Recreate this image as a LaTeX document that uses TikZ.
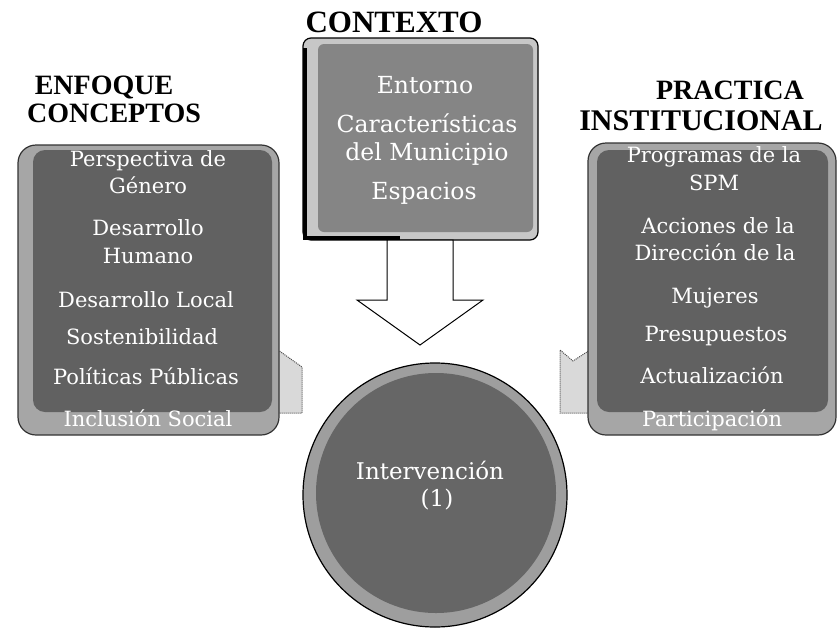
\documentclass[tikz,border=0pt]{standalone}
\usepackage{fontspec}
\setmainfont{Liberation Serif}
\newfontfamily\boxfont{DejaVu Serif}
\begin{document}
\begin{tikzpicture}[x=1pt,y=-1pt,
  title/.style={font=\bfseries\fontsize{28}{30}\selectfont, text=black, anchor=base, inner sep=0pt},
  outerbox/.style={draw=black!80, fill=black!35, line width=1.2pt, rounded corners=18pt},
  innerbox/.style={fill=black!62, rounded corners=12pt},
  boxtxt/.style={font=\boxfont\fontsize{21}{24}\selectfont, text=white, anchor=base, inner sep=1pt},
  ctxtxt/.style={font=\boxfont\fontsize{23.5}{26}\selectfont, text=white, anchor=base, inner sep=1pt},
  blockarrow/.style={draw=black, line width=1pt, fill=white, line join=miter},
  sidearrow/.style={draw=black!70, line width=1pt, fill=black!15, densely dotted}]
\useasboundingbox (0,0) rectangle (837,629);

% ---- titles
\node[title, font=\bfseries\fontsize{31}{33}\selectfont] (tctx) at (394,32) {CONTEXTO};
\node[title] (tenf1) at (104,94) {ENFOQUE};
\node[title] (tpra1) at (730,99) {PRACTICA};
\node[title] (tenf2) at (114,122) {CONCEPTOS};
\node[title, font=\bfseries\fontsize{30}{32}\selectfont] (tpra2) at (701,130) {INSTITUCIONAL};

% ---- side arrows (behind)
\draw[sidearrow] (278,350) -- (302,367) -- (302,413) -- (278,413) -- cycle;
\draw[sidearrow] (590,350) -- (573,361) -- (560,350) -- (560,413) -- (590,413) -- cycle;

% ---- left box
\draw[outerbox] (18,145) rectangle (279,435);
\fill[innerbox] (33,150) rectangle (272,412);
\node[boxtxt] (l1) at (148,166) {Perspectiva de};
\node[boxtxt] (l2) at (148,193) {Género};
\node[boxtxt] (l3) at (148,235) {Desarrollo};
\node[boxtxt] (l4) at (148,263) {Humano};
\node[boxtxt] (l5) at (146,307) {Desarrollo Local};
\node[boxtxt] (l6) at (142,344) {Sostenibilidad};
\node[boxtxt] (l7) at (146,384) {Políticas Públicas};
\node[boxtxt] (l8) at (148,426) {Inclusión Social};

% ---- right box
\draw[outerbox] (588,143) rectangle (836,435);
\fill[innerbox] (597,150) rectangle (828,412);
\node[boxtxt] (r1) at (714,162) {Programas de la};
\node[boxtxt] (r2) at (714,190) {SPM};
\node[boxtxt] (r3) at (718,233) {Acciones de la};
\node[boxtxt] (r4) at (715,260) {Dirección de la};
\node[boxtxt] (r5) at (715,303) {Mujeres};
\node[boxtxt] (r6) at (716,341) {Presupuestos};
\node[boxtxt] (r7) at (712,383) {Actualización};
\node[boxtxt] (r8) at (712,426) {Participación};

% ---- context box
\draw[draw=black, line width=1.2pt, fill=black!22, rounded corners=8pt] (303,38) rectangle (538,240);
\fill[black!48, rounded corners=6pt] (318,44) rectangle (533,232);
\draw[black, line width=4pt] (305,48) -- (305,238) -- (400,238);
\node[ctxtxt] (c1) at (425,93) {Entorno};
\node[ctxtxt] (c2) at (427,132) {Características};
\node[ctxtxt] (c3) at (427,160) {del Municipio};
\node[ctxtxt] (c4) at (424,199) {Espacios};

% ---- down arrow
\draw[blockarrow] (387,240) -- (387,300) -- (357,300) -- (420,345) -- (483,300) -- (453,300) -- (453,240) -- cycle;

% ---- circle
\node[circle, draw=black, line width=1.2pt, fill=black!38, minimum size=264pt, inner sep=0pt] (circ) at (435,495) {};
\node[circle, fill=black!60, minimum size=240pt, inner sep=0pt] (circin) at (436,493) {};
\node[boxtxt, font=\boxfont\fontsize{23}{26}\selectfont] (k1) at (430,479) {Intervención};
\node[boxtxt, font=\boxfont\fontsize{23}{26}\selectfont] (k2) at (437,506) {(1)};
\end{tikzpicture}
\end{document}
